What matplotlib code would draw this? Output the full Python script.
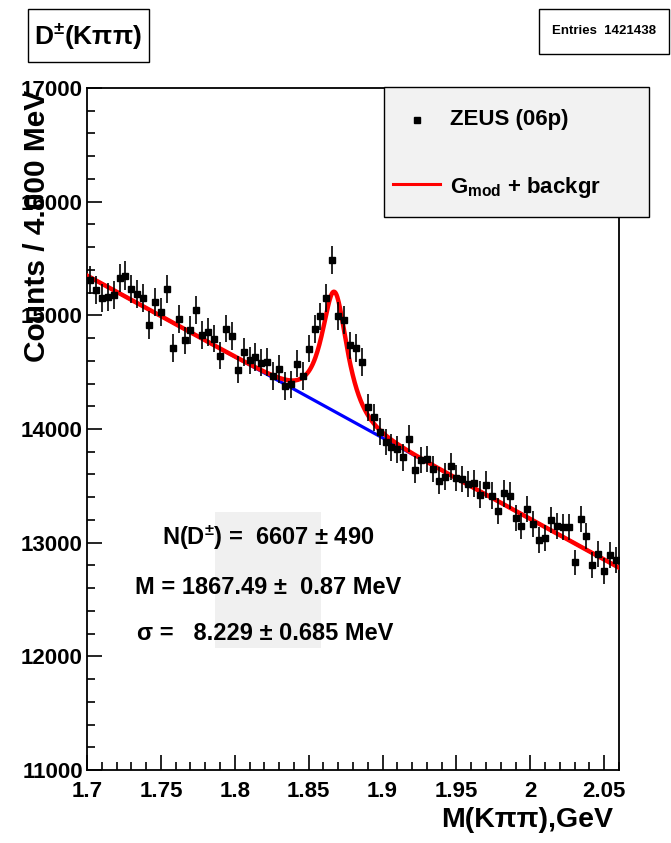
import numpy as np
import matplotlib.pyplot as plt
from matplotlib.patches import Rectangle
from matplotlib.lines import Line2D
from matplotlib.ticker import MultipleLocator

plt.rcParams['font.family'] = ['Liberation Sans', 'DejaVu Sans']
plt.rcParams['font.weight'] = 'bold'
plt.rcParams['mathtext.fontset'] = 'custom'
plt.rcParams['mathtext.rm'] = 'Liberation Sans:bold'
plt.rcParams['mathtext.bf'] = 'Liberation Sans:bold'
plt.rcParams['mathtext.it'] = 'Liberation Sans:bold'

# histogram: M(K pi pi), 4 MeV bins from 1.70 to 2.06 GeV
x_lo, x_hi = 1.70, 2.06
bin_width = 0.004
counts = [15308, 15220, 15153, 15162, 15182, 15329, 15350, 15235, 15185, 15153,
          14912, 15117, 15029, 15235, 14715, 14965, 14780, 14868, 15044, 14824,
          14853, 14795, 14645, 14883, 14821, 14522, 14677, 14604, 14635, 14584,
          14590, 14465, 14528, 14378, 14392, 14575, 14465, 14707, 14877, 14990,
          15155, 15485, 14995, 14956, 14736, 14712, 14590, 14190, 14102, 13977,
          13885, 13840, 13820, 13752, 13913, 13643, 13728, 13737, 13649, 13546,
          13581, 13672, 13567, 13561, 13517, 13522, 13423, 13511, 13414, 13276,
          13434, 13414, 13217, 13150, 13293, 13164, 13023, 13041, 13203, 13144,
          13141, 13135, 12826, 13205, 13062, 12806, 12900, 12753, 12894, 12847]
entries = 1421438

# fit results
n_sig, n_sig_err = 6607, 490
mass, mass_err = 1867.49, 0.87      # MeV
sigma, sigma_err = 8.229, 0.685     # MeV
bkg_at_lo = 15350                   # linear background at 1.70 GeV
bkg_slope = -7139                   # counts per GeV

W, H = 671, 843


def fx(px):
    return px / W


def fy(py):
    return 1 - py / H


def gmod_shape(t):
    t = np.abs(t)
    return np.exp(-0.5 * t ** (1 + 1 / (1 + 0.5 * t)))


def background(x):
    return bkg_at_lo + bkg_slope * (x - x_lo)


# normalise the modified gaussian so that its integral is n_sig events
tt = np.linspace(-60, 60, 200001)
norm = np.trapezoid(gmod_shape(tt), tt)
m0, s0 = mass / 1000, sigma / 1000
amp = n_sig * bin_width / (s0 * norm)


def signal(x):
    return amp * gmod_shape((x - m0) / s0)


counts = np.array(counts, dtype=float)
centers = x_lo + bin_width * (np.arange(len(counts)) + 0.5)

fig = plt.figure(figsize=(W / 100, H / 100), dpi=100)
ax = fig.add_axes([fx(87), fy(770), (619 - 87) / W, (770 - 88) / H])

xs = np.linspace(x_lo, x_hi, 800)
ax.plot(xs, background(xs), color='blue', lw=2.3, zorder=2)
ax.plot(xs, background(xs) + signal(xs), color='red', lw=3.2, zorder=3)
ax.errorbar(centers, counts, yerr=np.sqrt(counts), xerr=bin_width / 2,
            fmt='s', color='black', ms=3.8, elinewidth=1.2, capsize=0, zorder=4)

ax.set_xlim(x_lo, x_hi)
ax.set_ylim(11000, 17000)
ax.xaxis.set_major_locator(MultipleLocator(0.05))
ax.xaxis.set_minor_locator(MultipleLocator(0.01))
ax.yaxis.set_major_locator(MultipleLocator(1000))
ax.yaxis.set_minor_locator(MultipleLocator(200))
ax.xaxis.set_major_formatter(plt.FuncFormatter(lambda v, p: f'{v:g}'))
ax.tick_params(which='both', direction='in', top=False, right=False,
               labelsize=16, width=1.2)
ax.tick_params(which='major', length=11)
ax.tick_params(which='minor', length=6)
ax.tick_params(axis='y', pad=3)
ax.tick_params(axis='x', pad=8)
for sp in ax.spines.values():
    sp.set_linewidth(1.3)

# axis titles sit over the tick labels, as in ROOT output
fig.text(fx(37), fy(90), 'Counts / 4.000 MeV', rotation=90, ha='center',
         va='top', fontsize=21.5, fontweight='bold')
fig.text(fx(613), fy(820), 'M(Kππ),GeV', ha='right', va='center',
         fontsize=20.5, fontweight='bold')

# title and entries boxes
fig.patches.append(Rectangle((fx(28), fy(62)), (149 - 28) / W, (62 - 9) / H,
                             transform=fig.transFigure, fc='white', ec='black', lw=1))
fig.text(fx(88), fy(36), r'D$^{\pm}$(Kππ)', ha='center', va='center', fontsize=19)
fig.patches.append(Rectangle((fx(539), fy(54)), (669 - 539) / W, (54 - 9) / H,
                             transform=fig.transFigure, fc='white', ec='black', lw=1))
fig.text(fx(604), fy(31), f'Entries  {entries}', ha='center', va='center', fontsize=9.5)

# legend box
fig.patches.append(Rectangle((fx(384), fy(217)), (649 - 384) / W, (217 - 87) / H,
                             transform=fig.transFigure, fc='#f2f2f2', ec='black',
                             lw=1, zorder=5))
fig.lines.append(Line2D([fx(417)], [fy(120)], marker='s', ms=3.8, color='black',
                        transform=fig.transFigure, zorder=6))
fig.text(fx(450), fy(120), 'ZEUS (06p)', va='center', fontsize=16, zorder=6)
fig.lines.append(Line2D([fx(393), fx(440)], [fy(184), fy(184)], color='red', lw=2.2,
                        transform=fig.transFigure, zorder=6))
fig.text(fx(450), fy(184), r'G$_{\rm mod}$ + backgr', va='center_baseline',
         fontsize=16, zorder=6)

# fit result text
fig.patches.append(Rectangle((fx(215), fy(648)), (321 - 215) / W, (648 - 512) / H,
                             transform=fig.transFigure, fc='#f0f0f0', ec='none', zorder=0))
fig.text(fx(268), fy(538), f'N(D$^{{\\pm}}$) =  {n_sig} ± {n_sig_err}',
         ha='center', va='center', fontsize=17)
fig.text(fx(268), fy(587), f'M = {mass:.2f} ±  {mass_err:.2f} MeV',
         ha='center', va='center', fontsize=17)
fig.text(fx(265), fy(633), f'σ =   {sigma:.3f} ± {sigma_err:.3f} MeV',
         ha='center', va='center', fontsize=17)

fig.savefig('out.png', dpi=100)
